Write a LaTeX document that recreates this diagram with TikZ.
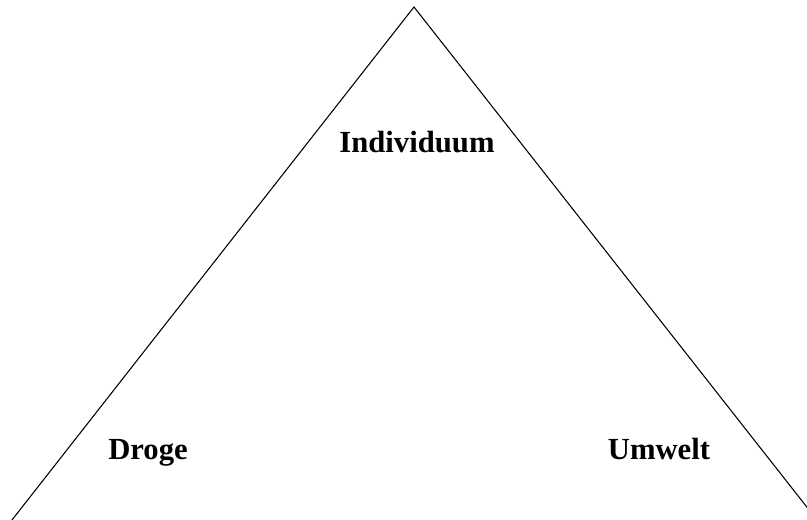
\documentclass[tikz,border=0pt]{standalone}
\usepackage{fontspec}
\setmainfont{Liberation Serif}
\usepackage{tikz}
\usetikzlibrary{positioning}

\begin{document}
\begin{tikzpicture}[x=0.75pt,y=0.75pt,font=\fontsize{23}{27}\selectfont\bfseries]
\useasboundingbox (0,0) rectangle (807,520);
\clip (0,0) rectangle (807,520);
\coordinate (top) at (414,513);
\coordinate (left) at (12,0);
\coordinate (right) at (817,0);
\draw[line width=0.8pt] (left)--(top)--(right);
\node[anchor=base] (ind) at (417,367) {Individuum};
\node[anchor=base] (droge) at (148,60) {Droge};
\node[anchor=base] (umwelt) at (659,60) {Umwelt};
\end{tikzpicture}
\end{document}
